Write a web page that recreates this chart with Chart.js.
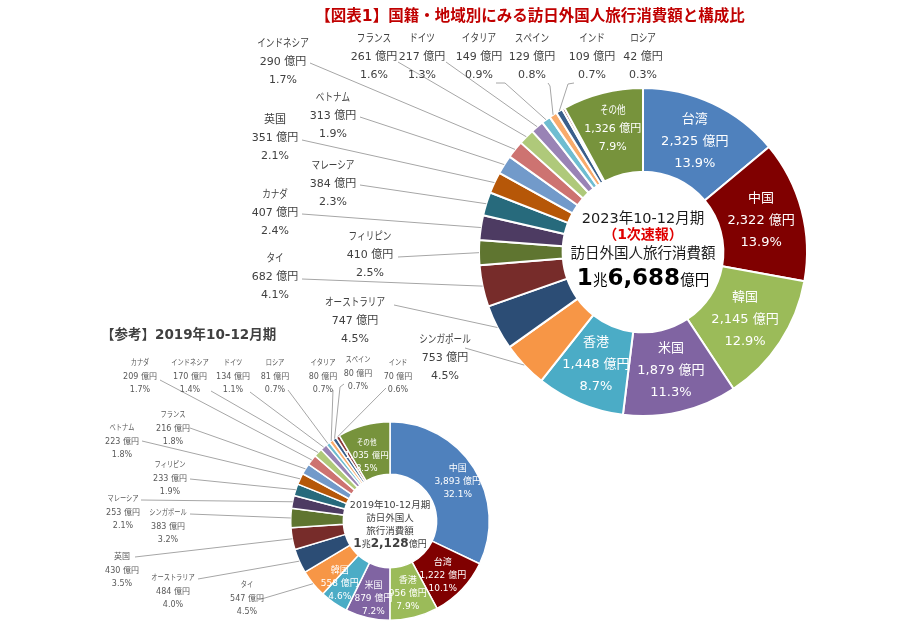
<!DOCTYPE html>
<html>
<head>
<meta charset="utf-8">
<script src="https://cdn.jsdelivr.net/npm/chart.js@4.4.0/dist/chart.umd.min.js"></script>
<style>
  body { margin: 0; background: #fff; }
  #wrap { position: relative; width: 900px; height: 624px; overflow: hidden; }
  canvas { position: absolute; left: 0; top: 0; }
</style>
</head>
<body>
<div id="wrap">
  <canvas id="main" width="900" height="624"></canvas>
  <canvas id="ref" width="900" height="624"></canvas>
</div>
<script>
const FONT = "'DejaVu Sans', 'Noto Sans CJK JP', sans-serif";

// 2023年10-12月期 (1次速報)
const names2023 = ['台湾', '中国', '韓国', '米国', '香港', 'シンガポール', 'オーストラリア', 'タイ', 'フィリピン', 'カナダ',
  'マレーシア', '英国', 'ベトナム', 'インドネシア', 'フランス', 'ドイツ', 'イタリア', 'スペイン', 'インド', 'ロシア', 'その他'];
const values2023 = [2325, 2322, 2145, 1879, 1448, 753, 747, 682, 410, 407, 384, 351, 313, 290, 261, 217, 149, 129, 109, 42, 1326];
const shares2023 = ['13.9%', '13.9%', '12.9%', '11.3%', '8.7%', '4.5%', '4.5%', '4.1%', '2.5%', '2.4%',
  '2.3%', '2.1%', '1.9%', '1.7%', '1.6%', '1.3%', '0.9%', '0.8%', '0.7%', '0.3%', '7.9%'];

// 【参考】2019年10-12月期
const names2019 = ['中国', '台湾', '香港', '米国', '韓国', 'タイ', 'オーストラリア', '英国', 'シンガポール', 'マレーシア',
  'フィリピン', 'ベトナム', 'フランス', 'カナダ', 'インドネシア', 'ドイツ', 'ロシア', 'イタリア', 'スペイン', 'インド', 'その他'];
const values2019 = [3893, 1222, 956, 879, 558, 547, 484, 430, 383, 253, 233, 223, 216, 209, 170, 134, 81, 80, 80, 70, 1035];
const shares2019 = ['32.1%', '10.1%', '7.9%', '7.2%', '4.6%', '4.5%', '4.0%', '3.5%', '3.2%', '2.1%',
  '1.9%', '1.8%', '1.8%', '1.7%', '1.4%', '1.1%', '0.7%', '0.7%', '0.7%', '0.6%', '8.5%'];

// slice colours by position (same order in both rings)
const colors = ['#4F81BD', '#800000', '#9BBB59', '#8064A2', '#4BACC6', '#F79646', '#2C4D75', '#772C2A', '#5F7530', '#4D3B62',
  '#276A7C', '#B65708', '#729ACA', '#CD7371', '#AFC97A', '#9983B5', '#6FBDD1', '#F9AB6B', '#3A5F8B', '#8C3836', '#77933C'];

// label placement: inside = on the slice, otherwise text at x/y with a leader line from a
const place2023 = {
  '台湾': { inside: true, size: 13, gap: 22 },
  '中国': { inside: true, size: 13, gap: 22 },
  '韓国': { inside: true, size: 13, gap: 22 },
  '米国': { inside: true, size: 13, gap: 22 },
  '香港': { inside: true, size: 13, gap: 22 },
  'その他': { inside: true, size: 11, gap: 18, dy: -4 },
  'シンガポール': { x: 445, y: 340, a: [[465, 348]] },
  'オーストラリア': { x: 355, y: 303, a: [[394, 305]] },
  'タイ': { x: 275, y: 259, a: [[302, 279]] },
  'フィリピン': { x: 370, y: 237, a: [[398, 257]] },
  'カナダ': { x: 275, y: 195, a: [[302, 214]] },
  'マレーシア': { x: 333, y: 166, a: [[360, 185]] },
  '英国': { x: 275, y: 120, a: [[302, 140]] },
  'ベトナム': { x: 333, y: 98, a: [[360, 117]] },
  'インドネシア': { x: 283, y: 44, a: [[310, 63]] },
  'フランス': { x: 374, y: 39, a: [[398, 62]] },
  'ドイツ': { x: 422, y: 39, a: [[446, 62]] },
  'イタリア': { x: 479, y: 39, a: [[496, 83], [505, 83]] },
  'スペイン': { x: 532, y: 39, a: [[548, 83], [550, 86]] },
  'インド': { x: 592, y: 39, a: [[574, 83], [568, 84]] },
  'ロシア': { x: 643, y: 39, a: null }
};

const place2019 = {
  '中国': { inside: true, size: 9, gap: 13, dx: 6 },
  '台湾': { inside: true, size: 9, gap: 13, dy: 4 },
  '香港': { inside: true, size: 9, gap: 13, dy: 2 },
  '米国': { inside: true, size: 9, gap: 13, dy: 7 },
  '韓国': { inside: true, size: 9, gap: 13, dx: -9, dy: 2 },
  'その他': { inside: true, size: 8.5, gap: 13, dx: -4, dy: 5 },
  'タイ': { x: 247, y: 585, a: [[258, 600]] },
  'オーストラリア': { x: 173, y: 578, a: [[198, 579]] },
  '英国': { x: 122, y: 557, a: [[135, 557]] },
  'シンガポール': { x: 168, y: 513, a: [[190, 514]] },
  'マレーシア': { x: 123, y: 499, a: [[141, 500]] },
  'フィリピン': { x: 170, y: 465, a: [[190, 479]] },
  'ベトナム': { x: 122, y: 428, a: [[142, 441]] },
  'フランス': { x: 173, y: 415, a: [[190, 428]] },
  'カナダ': { x: 140, y: 363, a: [[160, 380]] },
  'インドネシア': { x: 190, y: 363, a: [[211, 391]] },
  'ドイツ': { x: 233, y: 363, a: [[250, 392]] },
  'ロシア': { x: 275, y: 363, a: [[288, 390]] },
  'イタリア': { x: 323, y: 363, a: [[333, 390]] },
  'スペイン': { x: 358, y: 360, a: [[344, 384], [340, 387]] },
  'インド': { x: 398, y: 363, a: [[386, 388]] }
};

// kana in the original font is narrower than in Noto, so squeeze those names a bit
function drawName(ctx, t, x, y) {
  if (/[\u3040-\u30FF]/.test(t)) {
    ctx.fillText(t, x, y, ctx.measureText(t).width * 0.78);
  } else {
    ctx.fillText(t, x, y);
  }
}

// draws name / amount / share for every slice
const sliceLabels = {
  id: 'sliceLabels',
  afterDatasetsDraw(chart, args, opts) {
    const ctx = chart.ctx;
    const arcs = chart.getDatasetMeta(0).data;
    const vals = chart.data.datasets[0].data;
    ctx.save();
    ctx.textAlign = 'center';
    ctx.textBaseline = 'middle';
    arcs.forEach((arc, i) => {
      const name = chart.data.labels[i];
      const p = opts.place[name];
      if (!p) return;
      const lines = [name, vals[i].toLocaleString('en-US') + ' 億円', opts.shares[i]];
      const mid = (arc.startAngle + arc.endAngle) / 2;
      let x, y, gap;
      if (p.inside) {
        const r = (arc.innerRadius + arc.outerRadius) / 2;
        x = arc.x + Math.cos(mid) * r + (p.dx || 0);
        y = arc.y + Math.sin(mid) * r + (p.dy || 0) - p.gap;
        gap = p.gap;
        ctx.fillStyle = '#fff';
        ctx.font = p.size + 'px ' + FONT;
      } else {
        if (p.a) {
          ctx.strokeStyle = '#A6A6A6';
          ctx.lineWidth = 1;
          ctx.beginPath();
          ctx.moveTo(p.a[0][0], p.a[0][1]);
          p.a.slice(1).forEach((pt) => ctx.lineTo(pt[0], pt[1]));
          ctx.lineTo(arc.x + Math.cos(mid) * arc.outerRadius, arc.y + Math.sin(mid) * arc.outerRadius);
          ctx.stroke();
        }
        x = p.x;
        y = p.y;
        gap = opts.gap;
        ctx.fillStyle = opts.color;
        ctx.font = opts.size + 'px ' + FONT;
      }
      drawName(ctx, lines[0], x, y);
      ctx.fillText(lines[1], x, y + gap);
      ctx.fillText(lines[2], x, y + gap * 2);
    });
    ctx.restore();
  }
};

// text in the hole: each line is a list of [text, font, colour] parts
const centerText = {
  id: 'centerText',
  afterDatasetsDraw(chart, args, opts) {
    const ctx = chart.ctx;
    const arc = chart.getDatasetMeta(0).data[0];
    ctx.save();
    ctx.textBaseline = 'alphabetic';
    ctx.textAlign = 'left';
    opts.lines.forEach((ln) => {
      let w = 0;
      ln.parts.forEach((pt) => { ctx.font = pt[1]; w += ctx.measureText(pt[0]).width; });
      let x = arc.x - w / 2;
      ln.parts.forEach((pt) => {
        ctx.font = pt[1];
        ctx.fillStyle = pt[2];
        ctx.fillText(pt[0], x, arc.y + ln.dy);
        x += ctx.measureText(pt[0]).width;
      });
    });
    ctx.restore();
  }
};

// page headings
const headings = {
  id: 'headings',
  afterDraw(chart) {
    const ctx = chart.ctx;
    ctx.save();
    ctx.textBaseline = 'middle';
    ctx.textAlign = 'center';
    ctx.fillStyle = '#C00000';
    ctx.font = 'bold 15.5px ' + FONT;
    ctx.fillText('【図表1】国籍・地域別にみる訪日外国人旅行消費額と構成比', 530, 17);
    ctx.textAlign = 'left';
    ctx.fillStyle = '#404040';
    ctx.font = 'bold 13.5px ' + FONT;
    ctx.fillText('【参考】2019年10-12月期', 101, 335);
    ctx.restore();
  }
};

new Chart(document.getElementById('main'), {
  type: 'doughnut',
  data: {
    labels: names2023,
    datasets: [{
      data: values2023,
      backgroundColor: colors,
      borderColor: '#fff',
      borderWidth: 2
    }]
  },
  options: {
    responsive: false,
    animation: false,
    cutout: '49%',
    layout: { padding: { left: 478, right: 92, top: 87, bottom: 207 } },
    plugins: {
      legend: { display: false },
      tooltip: { enabled: false },
      sliceLabels: { place: place2023, shares: shares2023, color: '#404040', size: 11, gap: 18 },
      centerText: {
        lines: [
          { dy: -29, parts: [['2023年10-12月期', '14.5px ' + FONT, '#1a1a1a']] },
          { dy: -13, parts: [['（1次速報）', 'bold 14px ' + FONT, '#E00000']] },
          { dy: 6, parts: [['訪日外国人旅行消費額', '14.5px ' + FONT, '#1a1a1a']] },
          { dy: 33, parts: [['1', 'bold 23px ' + FONT, '#000'], ['兆', '14.5px ' + FONT, '#000'],
            ['6,688', 'bold 23px ' + FONT, '#000'], ['億円', '14.5px ' + FONT, '#000']] }
        ]
      }
    }
  },
  plugins: [sliceLabels, centerText, headings]
});

new Chart(document.getElementById('ref'), {
  type: 'doughnut',
  data: {
    labels: names2019,
    datasets: [{
      data: values2019,
      backgroundColor: colors,
      borderColor: '#fff',
      borderWidth: 1.5
    }]
  },
  options: {
    responsive: false,
    animation: false,
    cutout: '47%',
    layout: { padding: { left: 290, right: 410, top: 421, bottom: 3 } },
    plugins: {
      legend: { display: false },
      tooltip: { enabled: false },
      sliceLabels: { place: place2019, shares: shares2019, color: '#595959', size: 8, gap: 13.5 },
      centerText: {
        lines: [
          { dy: -13, parts: [['2019年10-12月期', '9.5px ' + FONT, '#404040']] },
          { dy: 0, parts: [['訪日外国人', '9.5px ' + FONT, '#404040']] },
          { dy: 13, parts: [['旅行消費額', '9.5px ' + FONT, '#404040']] },
          { dy: 26, parts: [['1', 'bold 12px ' + FONT, '#404040'], ['兆', '9px ' + FONT, '#404040'],
            ['2,128', 'bold 12px ' + FONT, '#404040'], ['億円', '9px ' + FONT, '#404040']] }
        ]
      }
    }
  },
  plugins: [sliceLabels, centerText]
});
</script>
</body>
</html>
